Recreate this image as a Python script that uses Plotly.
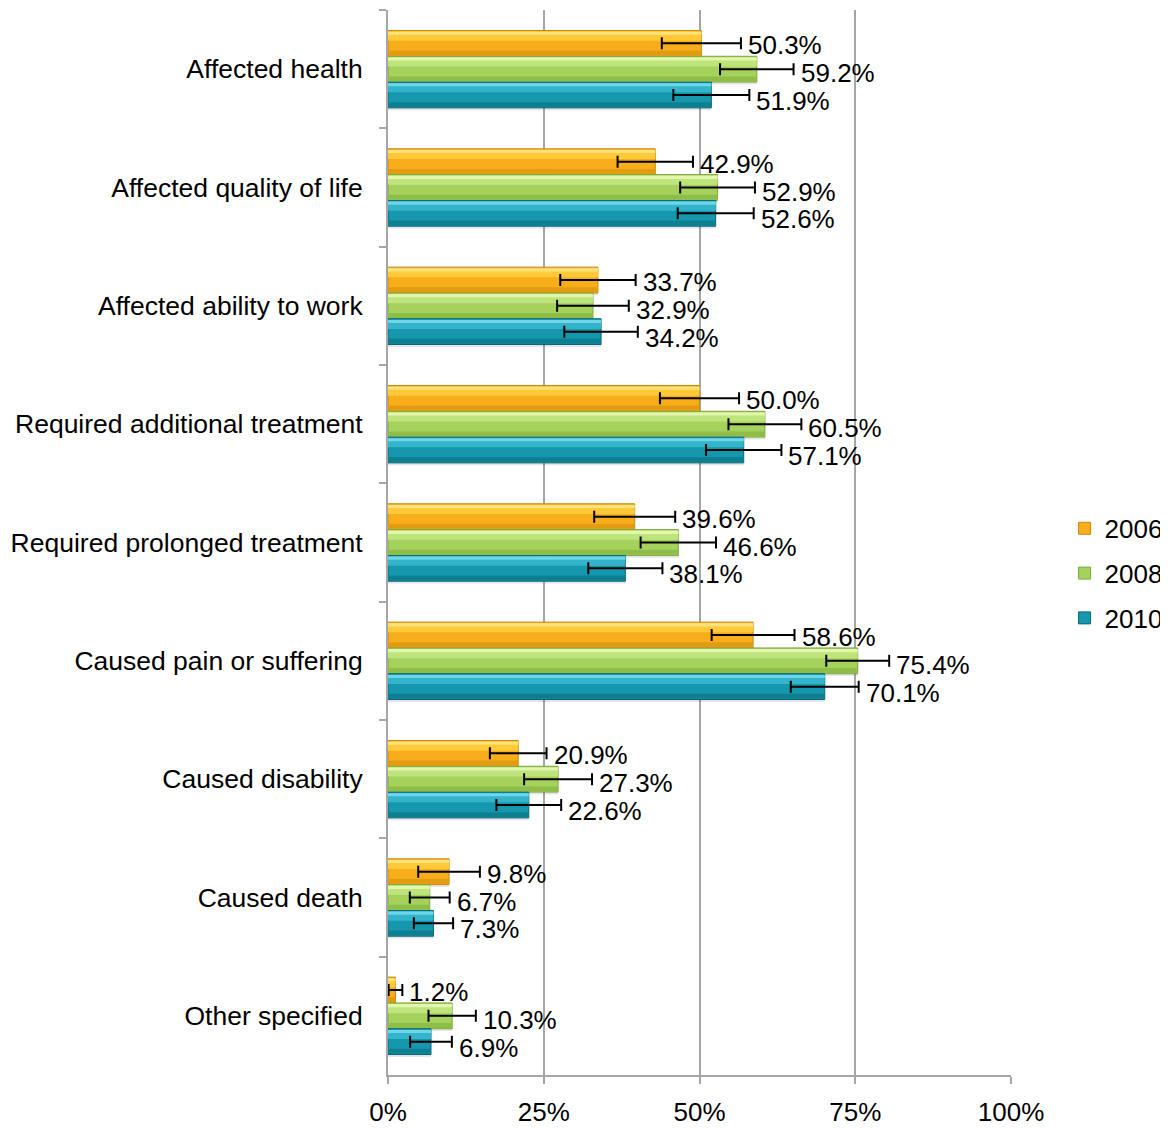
import plotly.graph_objects as go

categories = [
    "Affected health",
    "Affected quality of life",
    "Affected ability to work",
    "Required additional treatment",
    "Required prolonged treatment",
    "Caused pain or suffering",
    "Caused disability",
    "Caused death",
    "Other specified",
]
years = ["2006", "2008", "2010"]

values_2006 = [50.3, 42.9, 33.7, 50.0, 39.6, 58.6, 20.9, 9.8, 1.2]
values_2008 = [59.2, 52.9, 32.9, 60.5, 46.6, 75.4, 27.3, 6.7, 10.3]
values_2010 = [51.9, 52.6, 34.2, 57.1, 38.1, 70.1, 22.6, 7.3, 6.9]

errors_2006 = [6.35, 6.05, 6.05, 6.35, 6.5, 6.65, 4.55, 4.95, 1.1]
errors_2008 = [5.9, 6.0, 5.75, 5.85, 6.05, 5.05, 5.45, 3.2, 3.8]
errors_2010 = [6.1, 6.1, 5.9, 6.05, 5.95, 5.45, 5.2, 3.15, 3.35]

x_ticks = [0, 25, 50, 75, 100]
x_tick_labels = ["0%", "25%", "50%", "75%", "100%"]

series = [
    dict(name="2006", vals=values_2006, errs=errors_2006,
         base="#F8AE1A", top="#FFE27A", light="#FFC93A", dark="#E39B12", edge="#C7880E"),
    dict(name="2008", vals=values_2008, errs=errors_2008,
         base="#A5D25C", top="#E2F6AE", light="#BFE47C", dark="#8EBE48", edge="#7CA63F"),
    dict(name="2010", vals=values_2010, errs=errors_2010,
         base="#1598AE", top="#6ED6E8", light="#33B4CA", dark="#0D7F91", edge="#0A6676"),
]

FONT = "Liberation Sans, Arial, sans-serif"
W, H = 1160, 1120          # page body has an 8px default margin
M_L, M_R, M_T, M_B = 380, 157, 2, 53
bw = 0.218
offsets = [-1.5 * bw, -0.5 * bw, 0.5 * bw]
band_px = (H - M_T - M_B) / len(categories)
bar_px = bw * band_px

fig = go.Figure()

# subtle shadows
for s, o in zip(series, offsets):
    fig.add_trace(go.Bar(
        y=categories, x=s["vals"], orientation="h",
        offset=o + 0.02, width=bw,
        marker=dict(color="rgba(0,0,0,0.10)", line=dict(width=0)),
        showlegend=False, hoverinfo="skip"))

# main bars
for s, o in zip(series, offsets):
    fig.add_trace(go.Bar(
        y=categories, x=s["vals"], orientation="h", name=s["name"],
        offset=o, width=bw, legendgroup=s["name"],
        marker=dict(color=s["base"], line=dict(color=s["edge"], width=1)),
        showlegend=True))

# gradient-like strips
for s, o in zip(series, offsets):
    fig.add_trace(go.Bar(
        y=categories, x=s["vals"], orientation="h",
        offset=o + 0.008, width=bw * 0.36,
        marker=dict(color=s["light"], line=dict(width=0)),
        showlegend=False, hoverinfo="skip"))
    fig.add_trace(go.Bar(
        y=categories, x=s["vals"], orientation="h",
        offset=o + 0.01, width=bw * 0.12,
        marker=dict(color=s["top"], line=dict(width=0)),
        showlegend=False, hoverinfo="skip"))
    fig.add_trace(go.Bar(
        y=categories, x=s["vals"], orientation="h",
        offset=o + bw * 0.78, width=bw * 0.19,
        marker=dict(color=s["dark"], line=dict(width=0)),
        showlegend=False, hoverinfo="skip"))

# error bars on top (transparent bars)
for s, o in zip(series, offsets):
    fig.add_trace(go.Bar(
        y=categories, x=s["vals"], orientation="h",
        offset=o, width=bw,
        marker=dict(color="rgba(0,0,0,0)", line=dict(width=0)),
        error_x=dict(type="data", array=s["errs"], color="black",
                     thickness=2, width=6),
        showlegend=False, hoverinfo="skip"))

# data labels
yshifts = [bar_px - 2, -4, -bar_px - 6]
for s, ys in zip(series, yshifts):
    for c, v, e in zip(categories, s["vals"], s["errs"]):
        fig.add_annotation(
            x=v + e, y=c, xref="x", yref="y", text=f"{v:.1f}%",
            showarrow=False, xanchor="left", yanchor="middle",
            xshift=5, yshift=ys,
            font=dict(family=FONT, size=26, color="black"))

fig.update_layout(
    width=W, height=H,
    margin=dict(l=M_L, r=M_R, t=M_T, b=M_B, autoexpand=False),
    paper_bgcolor="white", plot_bgcolor="white",
    barmode="overlay",
    font=dict(family=FONT, size=26, color="black"),
    legend=dict(x=1.086, y=0.471, xanchor="left", yanchor="middle",
                font=dict(family=FONT, size=26, color="black"),
                traceorder="grouped", tracegroupgap=8,
                itemwidth=30, bgcolor="rgba(0,0,0,0)"),
    showlegend=True,
)
fig.update_xaxes(
    range=[0, 100], tickvals=x_ticks, ticktext=x_tick_labels,
    showgrid=True, gridcolor="#A6A6A6", gridwidth=2,
    showline=True, linecolor="#A6A6A6", linewidth=2,
    ticks="outside", ticklen=7, tickcolor="#A6A6A6", tickwidth=2,
    ticklabelstandoff=6, zeroline=False, automargin=False,
    tickfont=dict(family=FONT, size=26, color="black"),
)
fig.update_yaxes(
    autorange="reversed", type="category",
    showline=True, linecolor="#A6A6A6", linewidth=2,
    ticks="outside", ticklen=7, tickcolor="#A6A6A6", tickwidth=2,
    tickson="boundaries", showgrid=False, automargin=False,
    ticklabelstandoff=18,
    tickfont=dict(family=FONT, size=26.5, color="black"),
)

fig.write_html("out.html")
